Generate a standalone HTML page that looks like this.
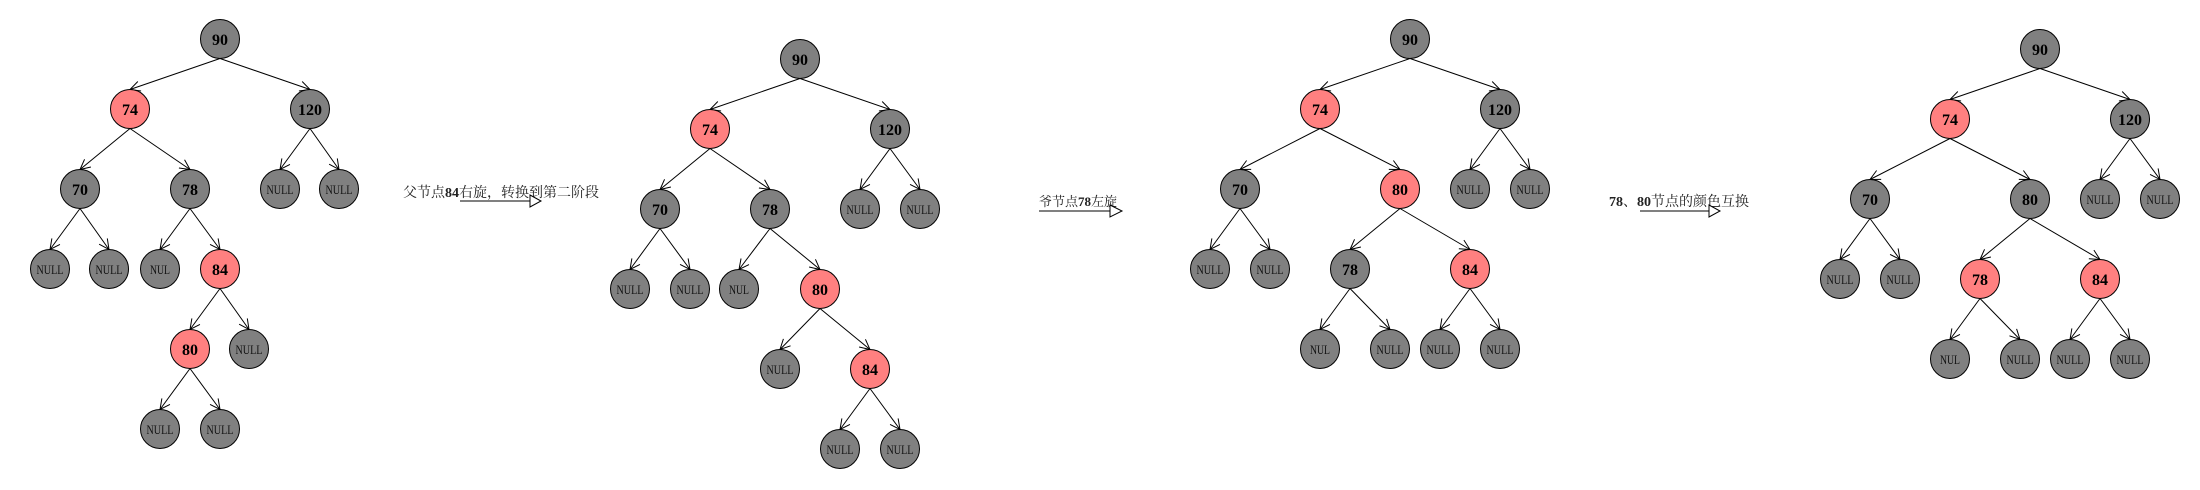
<!DOCTYPE html>
<html><head><meta charset="utf-8"><style>
html,body{margin:0;padding:0;background:#fff;width:2200px;height:490px;overflow:hidden}
svg{display:block}
.g{fill:#808080;stroke:#000;stroke-width:1}
.r{fill:#ff8080;stroke:#000;stroke-width:1}
.n{font-family:"Liberation Serif",serif;font-weight:bold;font-size:16px;text-anchor:middle;fill:#000}
.nl{font-family:"Liberation Serif",serif;font-size:13px;text-anchor:middle;fill:#111}
.t{font-family:"Liberation Serif","Noto Serif CJK SC",serif;font-size:13px;fill:#222}
line.e{stroke:#000;stroke-width:1}
</style></head><body>
<svg id="s" width="2200" height="490" viewBox="0 0 2200 490" xmlns="http://www.w3.org/2000/svg">
<defs><marker id="a" markerUnits="userSpaceOnUse" markerWidth="12" markerHeight="12" refX="11" refY="6" orient="auto"><path d="M1,1 L11,6 L1,11" fill="none" stroke="#000" stroke-width="1"/></marker></defs>
<g id="edges"></g>

<!-- Tree 1 -->
<circle class="g" cx="220" cy="39" r="19.5"/><text class="n" x="220" y="45">90</text>
<circle class="r" cx="130" cy="109" r="19.5"/><text class="n" x="130" y="115">74</text>
<circle class="g" cx="310" cy="109" r="19.5"/><text class="n" x="310" y="115">120</text>
<circle class="g" cx="80" cy="189" r="19.5"/><text class="n" x="80" y="195">70</text>
<circle class="g" cx="190" cy="189" r="19.5"/><text class="n" x="190" y="195">78</text>
<circle class="g" cx="280" cy="189" r="19.5"/><text class="nl" x="280" y="194" textLength="27" lengthAdjust="spacingAndGlyphs">NULL</text>
<circle class="g" cx="339" cy="189" r="19.5"/><text class="nl" x="339" y="194" textLength="27" lengthAdjust="spacingAndGlyphs">NULL</text>
<circle class="g" cx="50" cy="269" r="19.5"/><text class="nl" x="50" y="274" textLength="27" lengthAdjust="spacingAndGlyphs">NULL</text>
<circle class="g" cx="109" cy="269" r="19.5"/><text class="nl" x="109" y="274" textLength="27" lengthAdjust="spacingAndGlyphs">NULL</text>
<circle class="g" cx="160" cy="269" r="19.5"/><text class="nl" x="160" y="274" textLength="20" lengthAdjust="spacingAndGlyphs">NUL</text>
<circle class="r" cx="220" cy="269" r="19.5"/><text class="n" x="220" y="275">84</text>
<circle class="r" cx="190" cy="349" r="19.5"/><text class="n" x="190" y="355">80</text>
<circle class="g" cx="249" cy="349" r="19.5"/><text class="nl" x="249" y="354" textLength="27" lengthAdjust="spacingAndGlyphs">NULL</text>
<circle class="g" cx="160" cy="429" r="19.5"/><text class="nl" x="160" y="434" textLength="27" lengthAdjust="spacingAndGlyphs">NULL</text>
<circle class="g" cx="220" cy="429" r="19.5"/><text class="nl" x="220" y="434" textLength="27" lengthAdjust="spacingAndGlyphs">NULL</text>
<text class="t" x="403" y="197" style="font-size:14px">父节点<tspan font-weight="bold">84</tspan>右旋，转换到第二阶段</text>
<line class="e" x1="460" y1="201" x2="530" y2="201"/><path d="M530,195 L541,201 L530,207 Z" fill="#fff" stroke="#000"/>

<!-- Tree 2 -->
<circle class="g" cx="800" cy="59" r="19.5"/><text class="n" x="800" y="65">90</text>
<circle class="r" cx="710" cy="129" r="19.5"/><text class="n" x="710" y="135">74</text>
<circle class="g" cx="890" cy="129" r="19.5"/><text class="n" x="890" y="135">120</text>
<circle class="g" cx="660" cy="209" r="19.5"/><text class="n" x="660" y="215">70</text>
<circle class="g" cx="770" cy="209" r="19.5"/><text class="n" x="770" y="215">78</text>
<circle class="g" cx="860" cy="209" r="19.5"/><text class="nl" x="860" y="214" textLength="27" lengthAdjust="spacingAndGlyphs">NULL</text>
<circle class="g" cx="920" cy="209" r="19.5"/><text class="nl" x="920" y="214" textLength="27" lengthAdjust="spacingAndGlyphs">NULL</text>
<circle class="g" cx="630" cy="289" r="19.5"/><text class="nl" x="630" y="294" textLength="27" lengthAdjust="spacingAndGlyphs">NULL</text>
<circle class="g" cx="690" cy="289" r="19.5"/><text class="nl" x="690" y="294" textLength="27" lengthAdjust="spacingAndGlyphs">NULL</text>
<circle class="g" cx="739" cy="289" r="19.5"/><text class="nl" x="739" y="294" textLength="20" lengthAdjust="spacingAndGlyphs">NUL</text>
<circle class="r" cx="820" cy="289" r="19.5"/><text class="n" x="820" y="295">80</text>
<circle class="g" cx="780" cy="369" r="19.5"/><text class="nl" x="780" y="374" textLength="27" lengthAdjust="spacingAndGlyphs">NULL</text>
<circle class="r" cx="870" cy="369" r="19.5"/><text class="n" x="870" y="375">84</text>
<circle class="g" cx="840" cy="449" r="19.5"/><text class="nl" x="840" y="454" textLength="27" lengthAdjust="spacingAndGlyphs">NULL</text>
<circle class="g" cx="900" cy="449" r="19.5"/><text class="nl" x="900" y="454" textLength="27" lengthAdjust="spacingAndGlyphs">NULL</text>
<text class="t" x="1039" y="206">爷节点<tspan font-weight="bold">78</tspan>左旋</text>
<line class="e" x1="1039" y1="211" x2="1110" y2="211"/><path d="M1110,205 L1122,211 L1110,217 Z" fill="#fff" stroke="#000"/>

<!-- Tree 3 -->
<circle class="g" cx="1410" cy="39" r="19.5"/><text class="n" x="1410" y="45">90</text>
<circle class="r" cx="1320" cy="109" r="19.5"/><text class="n" x="1320" y="115">74</text>
<circle class="g" cx="1500" cy="109" r="19.5"/><text class="n" x="1500" y="115">120</text>
<circle class="g" cx="1240" cy="189" r="19.5"/><text class="n" x="1240" y="195">70</text>
<circle class="r" cx="1400" cy="189" r="19.5"/><text class="n" x="1400" y="195">80</text>
<circle class="g" cx="1470" cy="189" r="19.5"/><text class="nl" x="1470" y="194" textLength="27" lengthAdjust="spacingAndGlyphs">NULL</text>
<circle class="g" cx="1530" cy="189" r="19.5"/><text class="nl" x="1530" y="194" textLength="27" lengthAdjust="spacingAndGlyphs">NULL</text>
<circle class="g" cx="1210" cy="269" r="19.5"/><text class="nl" x="1210" y="274" textLength="27" lengthAdjust="spacingAndGlyphs">NULL</text>
<circle class="g" cx="1270" cy="269" r="19.5"/><text class="nl" x="1270" y="274" textLength="27" lengthAdjust="spacingAndGlyphs">NULL</text>
<circle class="g" cx="1350" cy="269" r="19.5"/><text class="n" x="1350" y="275">78</text>
<circle class="r" cx="1470" cy="269" r="19.5"/><text class="n" x="1470" y="275">84</text>
<circle class="g" cx="1320" cy="349" r="19.5"/><text class="nl" x="1320" y="354" textLength="20" lengthAdjust="spacingAndGlyphs">NUL</text>
<circle class="g" cx="1390" cy="349" r="19.5"/><text class="nl" x="1390" y="354" textLength="27" lengthAdjust="spacingAndGlyphs">NULL</text>
<circle class="g" cx="1440" cy="349" r="19.5"/><text class="nl" x="1440" y="354" textLength="27" lengthAdjust="spacingAndGlyphs">NULL</text>
<circle class="g" cx="1500" cy="349" r="19.5"/><text class="nl" x="1500" y="354" textLength="27" lengthAdjust="spacingAndGlyphs">NULL</text>
<text class="t" x="1609" y="206" style="font-size:14px"><tspan font-weight="bold">78</tspan>、<tspan font-weight="bold">80</tspan>节点的颜色互换</text>
<line class="e" x1="1640" y1="211" x2="1709" y2="211"/><path d="M1709,205 L1720,211 L1709,217 Z" fill="#fff" stroke="#000"/>

<!-- Tree 4 -->
<circle class="g" cx="2040" cy="49" r="19.5"/><text class="n" x="2040" y="55">90</text>
<circle class="r" cx="1950" cy="119" r="19.5"/><text class="n" x="1950" y="125">74</text>
<circle class="g" cx="2130" cy="119" r="19.5"/><text class="n" x="2130" y="125">120</text>
<circle class="g" cx="1870" cy="199" r="19.5"/><text class="n" x="1870" y="205">70</text>
<circle class="g" cx="2030" cy="199" r="19.5"/><text class="n" x="2030" y="205">80</text>
<circle class="g" cx="2100" cy="199" r="19.5"/><text class="nl" x="2100" y="204" textLength="27" lengthAdjust="spacingAndGlyphs">NULL</text>
<circle class="g" cx="2160" cy="199" r="19.5"/><text class="nl" x="2160" y="204" textLength="27" lengthAdjust="spacingAndGlyphs">NULL</text>
<circle class="g" cx="1840" cy="279" r="19.5"/><text class="nl" x="1840" y="284" textLength="27" lengthAdjust="spacingAndGlyphs">NULL</text>
<circle class="g" cx="1900" cy="279" r="19.5"/><text class="nl" x="1900" y="284" textLength="27" lengthAdjust="spacingAndGlyphs">NULL</text>
<circle class="r" cx="1980" cy="279" r="19.5"/><text class="n" x="1980" y="285">78</text>
<circle class="r" cx="2100" cy="279" r="19.5"/><text class="n" x="2100" y="285">84</text>
<circle class="g" cx="1950" cy="359" r="19.5"/><text class="nl" x="1950" y="364" textLength="20" lengthAdjust="spacingAndGlyphs">NUL</text>
<circle class="g" cx="2020" cy="359" r="19.5"/><text class="nl" x="2020" y="364" textLength="27" lengthAdjust="spacingAndGlyphs">NULL</text>
<circle class="g" cx="2070" cy="359" r="19.5"/><text class="nl" x="2070" y="364" textLength="27" lengthAdjust="spacingAndGlyphs">NULL</text>
<circle class="g" cx="2130" cy="359" r="19.5"/><text class="nl" x="2130" y="364" textLength="27" lengthAdjust="spacingAndGlyphs">NULL</text>
</svg>
<script>
var E=[
[220,39,130,109],[220,39,310,109],[130,109,80,189],[130,109,190,189],[310,109,280,189],[310,109,339,189],
[80,189,50,269],[80,189,109,269],[190,189,160,269],[190,189,220,269],[220,269,190,349],[220,269,249,349],
[190,349,160,429],[190,349,220,429],
[800,59,710,129],[800,59,890,129],[710,129,660,209],[710,129,770,209],[890,129,860,209],[890,129,920,209],
[660,209,630,289],[660,209,690,289],[770,209,739,289],[770,209,820,289],[820,289,780,369],[820,289,870,369],
[870,369,840,449],[870,369,900,449],
[1410,39,1320,109],[1410,39,1500,109],[1320,109,1240,189],[1320,109,1400,189],[1500,109,1470,189],[1500,109,1530,189],
[1240,189,1210,269],[1240,189,1270,269],[1400,189,1350,269],[1400,189,1470,269],[1350,269,1320,349],[1350,269,1390,349],
[1470,269,1440,349],[1470,269,1500,349],
[2040,49,1950,119],[2040,49,2130,119],[1950,119,1870,199],[1950,119,2030,199],[2130,119,2100,199],[2130,119,2160,199],
[1870,199,1840,279],[1870,199,1900,279],[2030,199,1980,279],[2030,199,2100,279],[1980,279,1950,359],[1980,279,2020,359],
[2100,279,2070,359],[2100,279,2130,359]
];
var g=document.getElementById('edges'),ns='http://www.w3.org/2000/svg';
E.forEach(function(e){var l=document.createElementNS(ns,'line');
l.setAttribute('x1',e[0]);l.setAttribute('y1',e[1]+19.5);l.setAttribute('x2',e[2]);l.setAttribute('y2',e[3]-19.5);
l.setAttribute('class','e');l.setAttribute('marker-end','url(#a)');g.appendChild(l);});
</script>
</body></html>
